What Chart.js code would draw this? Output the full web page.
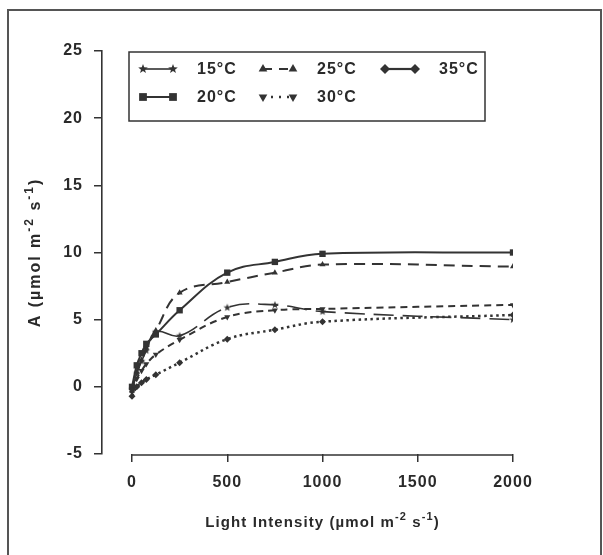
<!DOCTYPE html>
<html>
<head>
<meta charset="utf-8">
<script src="https://cdn.jsdelivr.net/npm/chart.js@4.4.1/dist/chart.umd.min.js"></script>
<style>
  html, body { margin: 0; padding: 0; background: #fff; }
  #wrap { width: 603px; height: 555px; position: relative; }
</style>
</head>
<body>
<div id="wrap"><canvas id="lightChart"></canvas></div>
<script>
// Mức ánh sáng (µmol m-2 s-1)
const lightLevels = [0, 25, 50, 75, 125, 250, 500, 750, 1000, 2000];

// Tốc độ quang hợp A ở từng nhiệt độ
const a15 = [-0.2, 1.0, 1.9, 2.7, 4.1, 3.8, 5.9, 6.1, 5.6, 5.0];
const a20 = [0.0, 1.6, 2.5, 3.2, 3.9, 5.7, 8.5, 9.3, 9.9, 10.0];
const a25 = [-0.3, 1.1, 2.0, 2.9, 4.2, 7.0, 7.8, 8.5, 9.1, 8.95];
const a30 = [-0.4, 0.6, 1.2, 1.7, 2.4, 3.5, 5.2, 5.7, 5.8, 6.1];
const a35 = [-0.7, 0.0, 0.3, 0.55, 0.9, 1.8, 3.55, 4.25, 4.85, 5.35];

const seriesLabels = ["15°C", "20°C", "25°C", "30°C", "35°C"];

// Nhãn trục
const xTicks = [0, 500, 1000, 1500, 2000];
const yTicks = [-5, 0, 5, 10, 15, 20, 25];

const ink = "#333";
const FONT = "'Liberation Sans', Arial, sans-serif";

// Ngôi sao đặc cho 15°C
function makeStar(r) {
  const c = document.createElement("canvas");
  c.width = c.height = 2 * r + 2;
  const g = c.getContext("2d");
  g.fillStyle = ink;
  g.beginPath();
  for (let i = 0; i < 10; i++) {
    const rad = i % 2 ? r * 0.42 : r;
    const a = -Math.PI / 2 + i * Math.PI / 5;
    g.lineTo(r + 1 + rad * Math.cos(a), r + 1 + rad * Math.sin(a));
  }
  g.closePath();
  g.fill();
  return c;
}
const starSmall = makeStar(4);
const starBig = makeStar(5);

const toPoints = (vals) => lightLevels.map((x, i) => ({ x: x, y: vals[i] }));

const datasets = [
  {
    label: seriesLabels[0], data: toPoints(a15),
    borderWidth: 1.6, pointStyle: starSmall, pointRadius: 4,
    segment: { borderDash: (c) => (c.p0.parsed.x < 250 ? [] : [20, 9]) },
    legendDash: [], legendStyle: starBig, legendRadius: 5, legendWidth: 1.6
  },
  {
    label: seriesLabels[1], data: toPoints(a20),
    borderWidth: 2, pointStyle: "rect", pointRadius: 4.5,
    legendDash: [], legendStyle: "rect", legendRadius: 5.5, legendWidth: 2
  },
  {
    label: seriesLabels[2], data: toPoints(a25),
    borderWidth: 2, borderDash: [11, 7], pointStyle: "triangle", pointRadius: 3.5,
    legendDash: [9, 7], legendStyle: "triangle", legendRadius: 5, legendWidth: 2
  },
  {
    label: seriesLabels[3], data: toPoints(a30),
    borderWidth: 2, borderDash: [7, 5], pointStyle: "triangle", pointRotation: 180, pointRadius: 3.5,
    legendDash: [2, 6], legendStyle: "triangle", legendRotation: 180, legendRadius: 5, legendWidth: 2.5
  },
  {
    label: seriesLabels[4], data: toPoints(a35),
    borderWidth: 2.5, borderDash: [2.5, 3.5], pointStyle: "rectRot", pointRadius: 3.5,
    legendDash: [], legendStyle: "rectRot", legendRadius: 5, legendWidth: 2.2
  }
].map((d) => Object.assign({
  borderColor: ink, backgroundColor: ink,
  pointBackgroundColor: ink, pointBorderColor: ink, pointBorderWidth: 0,
  tension: 0.4, fill: false
}, d));

// Vẽ chữ có chỉ số trên
function drawRuns(ctx, runs, x, y, size) {
  const fontFor = (r) => "bold " + (r.sup ? Math.round(size * 0.72) : size) + "px " + FONT;
  let total = 0;
  runs.forEach((r) => { ctx.font = fontFor(r); total += ctx.measureText(r.t).width; });
  let cx = x - total / 2;
  ctx.textAlign = "left";
  ctx.textBaseline = "middle";
  runs.forEach((r) => {
    ctx.font = fontFor(r);
    ctx.fillText(r.t, cx, r.sup ? y - size * 0.4 : y);
    cx += ctx.measureText(r.t).width;
  });
}

const decor = {
  id: "decor",
  beforeDraw(chart) {
    const ctx = chart.ctx;
    ctx.save();
    ctx.fillStyle = "#fff";
    ctx.fillRect(0, 0, chart.width, chart.height);
    ctx.restore();
    ctx.letterSpacing = "1px";
  },
  afterDraw(chart) {
    const ctx = chart.ctx;
    const xs = chart.scales.x, ys = chart.scales.y;
    ctx.save();
    ctx.fillStyle = "#2a2a2a";

    // khung ngoài của hình scan
    ctx.lineWidth = 2;
    ctx.strokeStyle = "#555";
    ctx.beginPath();
    ctx.moveTo(8, 555); ctx.lineTo(8, 10); ctx.lineTo(601, 10); ctx.lineTo(601, 555);
    ctx.stroke();

    // trục x bắt đầu từ 0
    ctx.strokeStyle = ink;
    ctx.lineWidth = 1.6;
    const yb = chart.chartArea.bottom + 1;
    ctx.beginPath();
    ctx.moveTo(xs.getPixelForValue(xTicks[0]), yb);
    ctx.lineTo(xs.getPixelForValue(xTicks[xTicks.length - 1]), yb);
    ctx.stroke();

    // tiêu đề trục
    ctx.letterSpacing = "1.1px";
    drawRuns(ctx, [
      { t: "Light Intensity (µmol m" }, { t: "-2", sup: true },
      { t: " s" }, { t: "-1", sup: true }, { t: ")" }
    ], (xs.getPixelForValue(0) + xs.getPixelForValue(2000)) / 2, 523, 15);
    ctx.save();
    ctx.letterSpacing = "2px";
    ctx.translate(36, (ys.top + ys.bottom) / 2);
    ctx.rotate(-Math.PI / 2);
    drawRuns(ctx, [
      { t: "A (µmol m" }, { t: "-2", sup: true },
      { t: " s" }, { t: "-1", sup: true }, { t: ")" }
    ], 0, 0, 16);
    ctx.restore();

    // chú thích
    ctx.letterSpacing = "1px";
    ctx.lineWidth = 1.5;
    ctx.strokeStyle = ink;
    ctx.strokeRect(129, 52, 356, 69);
    const cols = [143, 263, 385];
    const rows = [69, 97];
    const order = [[0, 0, 0], [1, 0, 1], [2, 1, 0], [3, 1, 1], [4, 2, 0]];
    order.forEach(([i, c, r]) => {
      const ds = chart.data.datasets[i];
      const x0 = cols[c], x1 = x0 + 30, y = rows[r];
      ctx.save();
      ctx.strokeStyle = ink;
      ctx.lineWidth = ds.legendWidth;
      ctx.setLineDash(ds.legendDash);
      ctx.beginPath();
      ctx.moveTo(x0, y); ctx.lineTo(x1, y);
      ctx.stroke();
      ctx.setLineDash([]);
      ctx.fillStyle = ink;
      [x0, x1].forEach((px) => {
        Chart.helpers.drawPoint(ctx, {
          pointStyle: ds.legendStyle, radius: ds.legendRadius,
          rotation: ds.legendRotation || 0, borderWidth: 0
        }, px, y);
      });
      ctx.restore();
      ctx.font = "bold 16px " + FONT;
      ctx.textAlign = "left";
      ctx.textBaseline = "middle";
      ctx.fillText(ds.label, x1 + 24, y + 1);
    });
    ctx.restore();
  }
};

new Chart(document.getElementById("lightChart").getContext("2d"), {
  type: "line",
  data: { datasets: datasets },
  plugins: [decor],
  options: {
    responsive: true,
    maintainAspectRatio: false,
    animation: false,
    layout: { padding: { left: 0, right: 90, top: 51, bottom: 0 } },
    plugins: { legend: { display: false }, tooltip: { enabled: false } },
    scales: {
      x: {
        type: "linear",
        min: -157.5,
        max: 2000,
        afterBuildTicks: (s) => { s.ticks = xTicks.map((v) => ({ value: v })); },
        afterFit: (s) => { s.height = 101; },
        border: { display: false },
        grid: { display: true, drawOnChartArea: false, drawTicks: true, tickLength: 8, color: ink, lineWidth: 1.5 },
        ticks: {
          color: "#2a2a2a", font: { family: FONT, size: 16, weight: "bold" }, padding: 11, maxRotation: 0,
          callback: (v) => String(v)
        }
      },
      y: {
        min: -5,
        max: 25,
        afterBuildTicks: (s) => { s.ticks = yTicks.map((v) => ({ value: v })); },
        afterFit: (s) => { s.width = 102; },
        border: { display: true, color: ink, width: 1.6 },
        grid: { display: true, drawOnChartArea: false, drawTicks: true, tickLength: 8, color: ink, lineWidth: 1.5 },
        ticks: {
          color: "#2a2a2a", font: { family: FONT, size: 16, weight: "bold" }, padding: 11,
          callback: (v) => String(v)
        }
      }
    }
  }
});
</script>
</body>
</html>
